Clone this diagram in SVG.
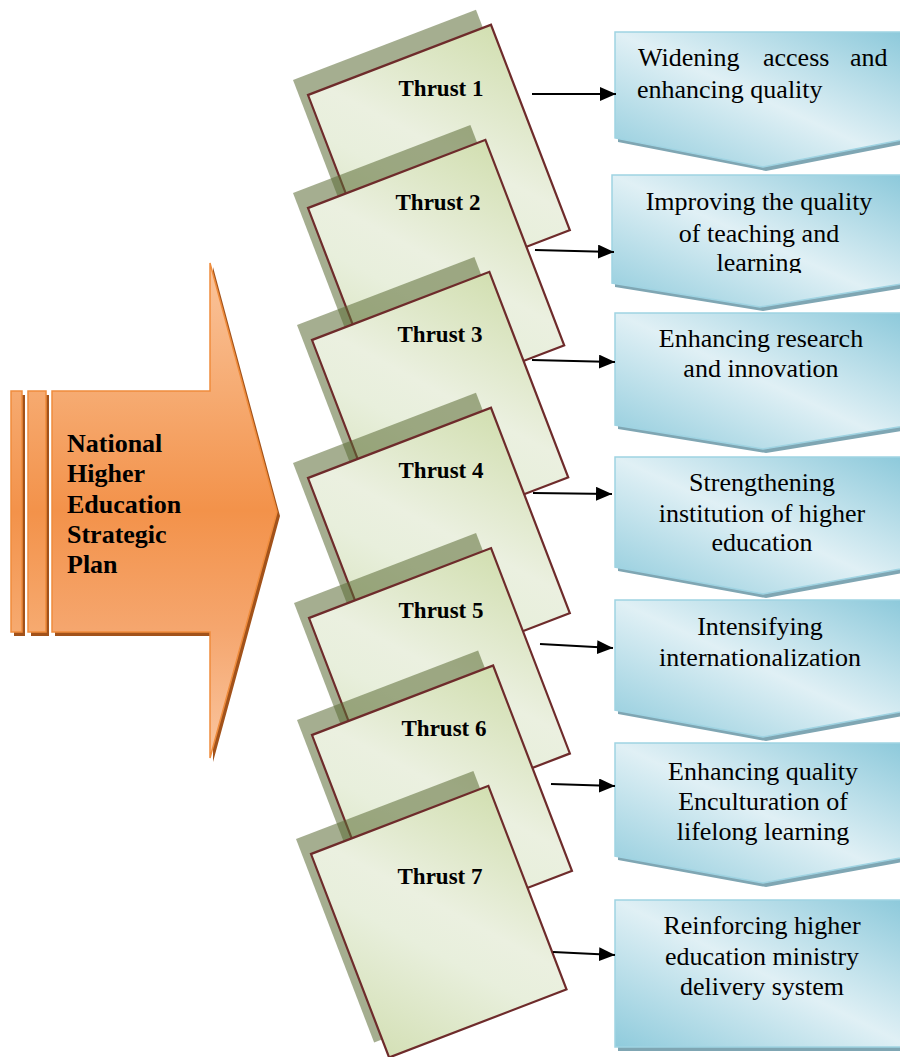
<svg xmlns="http://www.w3.org/2000/svg" width="900" height="1057" viewBox="0 0 900 1057">
  <defs>
    <style>
      .thrust-label { font-family: "Liberation Serif", "Times New Roman", serif; font-weight: bold; font-size: 23px; fill: #000; text-anchor: middle; }
      .box-label { font-family: "Liberation Serif", "Times New Roman", serif; font-size: 26px; fill: #000; text-anchor: middle; }
      .plan-label { font-family: "Liberation Serif", "Times New Roman", serif; font-weight: bold; font-size: 26px; fill: #000; }
      .card { fill: url(#cardFill); stroke: #6e2b2b; stroke-width: 2.2; }
      .card-shadow { fill: #5b6b34; fill-opacity: 0.55; }
      .box { fill: url(#boxFill); stroke: #9fd3e2; stroke-width: 1.5; }
      .box-shadow { fill: #7fa6b3; }
      .conn { stroke: #000; stroke-width: 2.2; fill: none; marker-end: url(#ah); }
    </style>
    <linearGradient id="orangeFill" x1="0" y1="0" x2="0" y2="1">
      <stop offset="0" stop-color="#fac49c"/>
      <stop offset="0.26" stop-color="#f6ab72"/>
      <stop offset="0.5" stop-color="#f3924a"/>
      <stop offset="0.74" stop-color="#f5a66e"/>
      <stop offset="1" stop-color="#fac6a0"/>
    </linearGradient>
    <linearGradient id="stripeFill" x1="0" y1="0" x2="0" y2="1">
      <stop offset="0" stop-color="#f6aa70"/>
      <stop offset="0.5" stop-color="#f3924a"/>
      <stop offset="1" stop-color="#f6aa70"/>
    </linearGradient>
    <linearGradient id="cardFill" x1="1" y1="0" x2="0" y2="1">
      <stop offset="0" stop-color="#d2dfb1"/>
      <stop offset="0.45" stop-color="#ebf0e0"/>
      <stop offset="0.6" stop-color="#e8efdc"/>
      <stop offset="1" stop-color="#d4e0b6"/>
    </linearGradient>
    <linearGradient id="boxFill" x1="0" y1="1" x2="1" y2="0">
      <stop offset="0" stop-color="#8fcbdc"/>
      <stop offset="0.5" stop-color="#e0f0f5"/>
      <stop offset="1" stop-color="#8ac8da"/>
    </linearGradient>
    <marker id="ah" markerWidth="16" markerHeight="14" refX="16" refY="7" orient="auto" markerUnits="userSpaceOnUse">
      <path d="M0,0 L16,7 L0,14 Z" fill="#000"/>
    </marker>
    <clipPath id="clipBox2">
      <rect x="600" y="170" width="300" height="103"/>
    </clipPath>
  </defs>

  <rect width="900" height="1057" fill="#fff"/>

  <!-- Left block arrow -->
  <g id="plan">
    <g fill="#a2521a">
      <rect x="14" y="395" width="11" height="241"/>
      <rect x="31" y="395" width="18" height="241"/>
      <path d="M55,395 L213,395 L213,267 L280,516 L213,762 L213,636 L55,636 Z"/>
    </g>
    <g stroke="#ef8c3c" stroke-width="1.5">
      <rect x="11" y="391" width="11" height="241" fill="url(#stripeFill)"/>
      <rect x="28" y="391" width="18" height="241" fill="url(#stripeFill)"/>
      <path d="M52,391 L210,391 L210,263 L277,512 L210,758 L210,632 L52,632 Z" fill="url(#orangeFill)"/>
    </g>
    <text class="plan-label" x="67" y="452">National</text>
    <text class="plan-label" x="67" y="482">Higher</text>
    <text class="plan-label" x="67" y="513">Education</text>
    <text class="plan-label" x="67" y="543">Strategic</text>
    <text class="plan-label" x="67" y="573">Plan</text>
  </g>

  <!-- Thrust cards, each with its offset shadow -->
  <g id="thrust1">
    <rect class="card-shadow" transform="translate(293,80) rotate(-21)" width="196" height="220"/>
    <rect class="card" transform="translate(308,95) rotate(-21)" width="196" height="220"/>
    <text class="thrust-label" x="441" y="96">Thrust 1</text>
  </g>
  <g id="thrust2">
    <rect class="card-shadow" transform="translate(293,193) rotate(-21)" width="190" height="220"/>
    <rect class="card" transform="translate(308,208) rotate(-21)" width="190" height="220"/>
    <text class="thrust-label" x="438" y="210">Thrust 2</text>
  </g>
  <g id="thrust3">
    <rect class="card-shadow" transform="translate(297,325) rotate(-21)" width="190" height="220"/>
    <rect class="card" transform="translate(312,340) rotate(-21)" width="190" height="220"/>
    <text class="thrust-label" x="440" y="342">Thrust 3</text>
  </g>
  <g id="thrust4">
    <rect class="card-shadow" transform="translate(293,463) rotate(-21)" width="196" height="220"/>
    <rect class="card" transform="translate(308,478) rotate(-21)" width="196" height="220"/>
    <text class="thrust-label" x="441" y="478">Thrust 4</text>
  </g>
  <g id="thrust5">
    <rect class="card-shadow" transform="translate(294,603) rotate(-21)" width="195" height="220"/>
    <rect class="card" transform="translate(309,618) rotate(-21)" width="195" height="220"/>
    <text class="thrust-label" x="441" y="618">Thrust 5</text>
  </g>
  <g id="thrust6">
    <rect class="card-shadow" transform="translate(297,720) rotate(-21)" width="194" height="220"/>
    <rect class="card" transform="translate(312,735) rotate(-21)" width="194" height="220"/>
    <text class="thrust-label" x="444" y="736">Thrust 6</text>
  </g>
  <g id="thrust7">
    <rect class="card-shadow" transform="translate(296,839) rotate(-21)" width="190" height="218"/>
    <rect class="card" transform="translate(311,854) rotate(-21)" width="190" height="218"/>
    <text class="thrust-label" x="440" y="884">Thrust 7</text>
  </g>

  <!-- Outcome boxes -->
  <g id="goal1">
    <path class="box-shadow" d="M618,36 H914 V142 L766,171 L618,142 Z"/>
    <path class="box" d="M615,32 H911 V138 L763,167 L615,138 Z"/>
    <text class="box-label" style="text-anchor:start" y="66"><tspan x="638">Widening</tspan><tspan x="763">access</tspan><tspan x="850">and</tspan></text>
    <text class="box-label" style="text-anchor:start" x="637" y="98">enhancing quality</text>
  </g>
  <g id="goal2">
    <path class="box-shadow" d="M615,179 H911 V287 L763,311 L615,287 Z"/>
    <path class="box" d="M612,175 H908 V283 L760,307 L612,283 Z"/>
    <g clip-path="url(#clipBox2)">
      <text class="box-label" x="759" y="210">Improving the quality</text>
      <text class="box-label" x="759" y="242">of teaching and</text>
      <text class="box-label" x="759" y="271">learning</text>
    </g>
  </g>
  <g id="goal3">
    <path class="box-shadow" d="M618,317 H914 V429 L766,453 L618,429 Z"/>
    <path class="box" d="M615,313 H911 V425 L763,449 L615,425 Z"/>
    <text class="box-label" x="761" y="347">Enhancing research</text>
    <text class="box-label" x="761" y="377">and innovation</text>
  </g>
  <g id="goal4">
    <path class="box-shadow" d="M618,461 H914 V571 L766,598 L618,571 Z"/>
    <path class="box" d="M615,457 H911 V567 L763,594 L615,567 Z"/>
    <text class="box-label" x="762" y="491">Strengthening</text>
    <text class="box-label" x="762" y="522">institution of higher</text>
    <text class="box-label" x="762" y="551">education</text>
  </g>
  <g id="goal5">
    <path class="box-shadow" d="M618,604 H914 V714 L766,741 L618,714 Z"/>
    <path class="box" d="M615,600 H911 V710 L763,737 L615,710 Z"/>
    <text class="box-label" x="760" y="635">Intensifying</text>
    <text class="box-label" x="760" y="666">internationalization</text>
  </g>
  <g id="goal6">
    <path class="box-shadow" d="M618,747 H914 V860 L766,887 L618,860 Z"/>
    <path class="box" d="M615,743 H911 V856 L763,883 L615,856 Z"/>
    <text class="box-label" x="763" y="780">Enhancing quality</text>
    <text class="box-label" x="763" y="810">Enculturation of</text>
    <text class="box-label" x="763" y="840">lifelong learning</text>
  </g>
  <g id="goal7">
    <rect class="box-shadow" x="618" y="904" width="296" height="147"/>
    <rect class="box" x="615" y="900" width="296" height="147"/>
    <text class="box-label" x="762" y="934">Reinforcing higher</text>
    <text class="box-label" x="762" y="965">education ministry</text>
    <text class="box-label" x="762" y="995">delivery system</text>
  </g>

  <!-- Connectors from each thrust to its outcome -->
  <g id="connectors">
    <line class="conn" x1="532" y1="94" x2="616" y2="94"/>
    <line class="conn" x1="535" y1="250" x2="614" y2="252"/>
    <line class="conn" x1="532" y1="360" x2="615" y2="362"/>
    <line class="conn" x1="533" y1="493" x2="612" y2="494"/>
    <line class="conn" x1="540" y1="644" x2="613" y2="648"/>
    <line class="conn" x1="551" y1="784" x2="615" y2="786"/>
    <line class="conn" x1="553" y1="952" x2="615" y2="955"/>
  </g>
</svg>
